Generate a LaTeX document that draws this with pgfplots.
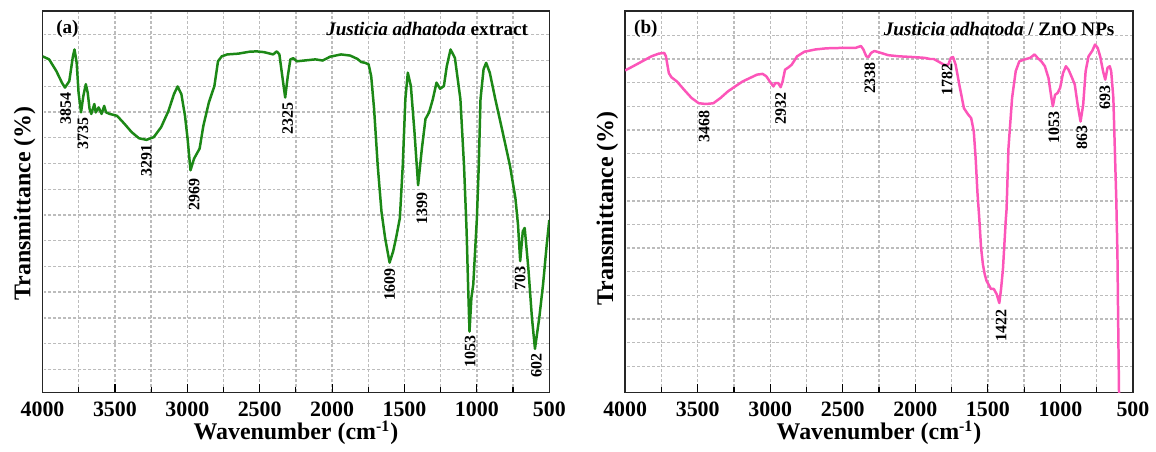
\documentclass[border=0pt]{standalone}
\usepackage{fontspec}
\setmainfont{Liberation Serif}
\usepackage{pgfplots}
\pgfplotsset{compat=1.18}
\definecolor{irgreen}{RGB}{28,136,22}
\definecolor{irpink}{RGB}{252,85,185}
\definecolor{gridgray}{RGB}{188,188,188}

\pgfplotsset{
  irpanel/.style={
    scale only axis, width=254.5pt, height=191.5pt,
    x dir=reverse, xmin=500, xmax=4000, ymin=0, ymax=100,
    xtick={500,1000,...,4000}, minor xtick={750,1250,...,3750},
    xtick pos=bottom, tick align=inside,
    major tick length=4pt, minor tick length=2.5pt,
    tick style={black, line width=0.6pt},
    yticklabels={}, ytick style={draw=none},
    xmajorgrids, xminorgrids, ymajorgrids,
    grid style={gridgray, line width=0.7pt, dash pattern=on 1.5pt off 1pt},
    minor grid style={gridgray, line width=0.7pt, dash pattern=on 1.5pt off 1pt},
    axis line style={black!85, line width=0.7pt},
    /pgf/number format/assume math mode=true,
    /pgf/number format/set thousands separator={},
    ticklabel style={font=\bfseries\fontsize{11}{12}\selectfont},
    xticklabel style={anchor=base, yshift=-12pt},
    xlabel={Wavenumber (cm\textsuperscript{-1})},
    ylabel={Transmittance (\%)},
    every axis y label/.style={at={(axis description cs:0,0.5)}, rotate=90, anchor=south,
      xshift=-1pt, font=\bfseries\fontsize{12}{14}\selectfont},
    every axis x label/.style={at={(axis description cs:0.5,0)}, anchor=base, yshift=-23.8pt,
      font=\bfseries\fontsize{12}{14}\selectfont},
    clip=true,
  },
}
\tikzset{
  peak/.style={font=\bfseries\fontsize{8}{9}\selectfont, rotate=90, inner sep=0pt},
  ttl/.style={font=\bfseries\fontsize{9.6}{11}\selectfont, inner sep=0pt},
}

\begin{document}
\begin{tikzpicture}
% (a) plant extract
\begin{axis}[irpanel, name=A,
  ytick={6,12.75,19.5,26.25,33,39.75,46.5,53.25,60,66.75,73.5,80.25,87,93.75}]
\addplot[irgreen, line width=1.25pt, line join=round] coordinates {
(4000,88.1) (3954,87.3) (3904,84.2) (3866,81.2) (3845,79.9) (3815,81.6) (3790,88.1)
(3779,89.9) (3764,86.4) (3751,78.6) (3734,73.4) (3718,77.7) (3701,80.8) (3688,78.6)
(3675,74.3) (3663,73.0) (3642,75.6) (3632,73.4) (3612,74.7) (3592,73.0) (3574,75.1)
(3561,73.4) (3536,73.0) (3485,72.5) (3434,70.4) (3384,68.2) (3333,66.6) (3282,66.2)
(3232,66.9) (3181,69.5) (3130,73.8) (3092,78.2) (3067,80.2) (3041,78.2) (3016,72.5)
(2998,66.5) (2978,58.2) (2953,61.3) (2915,63.9) (2889,69.9) (2851,76.0) (2813,80.3)
(2788,86.8) (2762,88.1) (2724,88.6) (2648,88.8) (2572,89.3) (2522,89.4) (2471,89.2)
(2407,88.6) (2382,89.4) (2364,88.6) (2344,82.9) (2324,77.3) (2306,82.9) (2288,87.3)
(2268,87.6) (2243,86.8) (2192,87.0) (2116,87.3) (2065,87.0) (2014,88.0) (1938,88.6)
(1875,88.3) (1824,87.4) (1799,86.6) (1773,86.4) (1748,86.0) (1730,82.9) (1710,74.3)
(1685,59.5) (1659,47.4) (1634,40.5) (1603,34.0) (1578,37.0) (1558,40.5) (1532,45.7)
(1512,59.5) (1494,76.9) (1477,83.8) (1456,80.3) (1431,68.2) (1406,54.3) (1380,63.9)
(1355,71.7) (1330,73.4) (1304,76.9) (1279,81.2) (1254,79.6) (1228,80.3) (1208,85.5)
(1182,89.9) (1152,87.7) (1114,76.9) (1089,59.5) (1071,42.2) (1061,28.3) (1051,15.9)
(1038,24.8) (1025,28.3) (1000,45.7) (987,59.5) (975,76.9) (954,84.7) (936,86.4)
(911,83.8) (873,76.9) (822,68.2) (772,59.5) (734,50.9) (716,43.9) (701,34.4)
(683,42.2) (670,43.1) (645,32.7) (620,19.6) (599,11.4) (569,19.6) (543,28.3)
(518,38.6) (500,45.2)
};
\node[ttl] at (axis cs:3828,95.2) {(a)};
\node[ttl, anchor=east] at (axis cs:644,95.2) {\textit{Justicia adhatoda} extract};
\node[peak] at (axis cs:3840,74.5) {3854};
\node[peak] at (axis cs:3721,67.8) {3735};
\node[peak] at (axis cs:3282,60.8) {3291};
\node[peak] at (axis cs:2953,51.9) {2969};
\node[peak] at (axis cs:2306,71.8) {2325};
\node[peak] at (axis cs:1380,48.1) {1399};
\node[peak] at (axis cs:1603,28.3) {1609};
\node[peak] at (axis cs:1046,10.6) {1053};
\node[peak] at (axis cs:701,29.8) {703};
\node[peak] at (axis cs:589,7.1) {602};
\end{axis}

% (b) ZnO nanoparticles
\begin{axis}[irpanel, name=B, xshift=292.6pt, width=255pt,
  every axis y label/.append style={xshift=-2.5pt},
  ytick={6.8,13.0,19.2,25.4,31.6,37.8,44.0,50.2,56.4,62.6,68.8,75.0,81.2,87.4,93.6}]
\addplot[irpink, line width=1.25pt, line join=round] coordinates {
(4000,84.4) (3945,85.5) (3882,86.8) (3819,88.1) (3769,88.8) (3731,89.0) (3719,88.1)
(3699,83.7) (3681,82.6) (3643,81.5) (3593,79.3) (3543,77.2) (3493,75.8) (3443,75.6)
(3392,75.8) (3342,77.2) (3292,78.9) (3242,80.2) (3191,81.5) (3141,82.4) (3091,83.3)
(3053,83.5) (3028,82.9) (3003,81.5) (2978,80.2) (2965,81.1) (2945,81.1) (2928,80.0)
(2915,81.5) (2898,84.6) (2878,85.1) (2852,85.9) (2815,88.1) (2765,89.3) (2689,89.9)
(2614,90.2) (2513,90.3) (2413,90.3) (2375,90.8) (2358,89.9) (2338,88.1) (2323,87.9)
(2305,89.0) (2282,89.5) (2237,89.0) (2187,88.4) (2112,88.1) (2011,87.9) (1936,87.7)
(1898,87.4) (1873,87.4) (1835,86.6) (1798,85.8) (1773,85.9) (1755,87.7) (1740,87.9)
(1722,85.9) (1697,80.7) (1665,74.5) (1635,72.8) (1615,71.9) (1597,68.4) (1584,61.3)
(1572,52.5) (1559,45.5) (1547,38.0) (1534,33.5) (1522,31.0) (1509,29.2) (1497,28.4)
(1479,27.1) (1459,27.1) (1439,25.7) (1421,23.4) (1409,27.1) (1396,32.3) (1384,40.2)
(1376,45.5) (1371,48.0) (1358,64.0) (1333,77.2) (1308,84.2) (1283,86.8) (1245,87.3)
(1208,87.7) (1178,88.6) (1158,87.7) (1132,86.8) (1107,85.5) (1082,82.4) (1062,77.2)
(1052,75.0) (1037,78.0) (1019,78.5) (1002,79.8) (982,83.7) (962,85.5) (944,84.6)
(919,82.4) (901,80.7) (881,75.4) (861,71.0) (843,75.4) (826,84.2) (806,88.1)
(781,89.5) (761,91.2) (743,90.3) (726,88.1) (706,84.2) (691,82.0) (675,85.1)
(660,85.5) (650,84.2) (635,77.2) (625,64.0) (615,50.8) (607,36.7) (602,19.2)
(596,0) (593,-5)
};
\node[ttl] at (axis cs:3857,95.2) {(b)};
\node[ttl, anchor=east] at (axis cs:625,95.2) {\textit{Justicia adhatoda} / ZnO NPs};
\node[peak] at (axis cs:3455,69.7) {3468};
\node[peak] at (axis cs:2928,74.5) {2932};
\node[peak] at (axis cs:2313,82.4) {2338};
\node[peak] at (axis cs:1780,82.0) {1782};
\node[peak] at (axis cs:1409,17.4) {1422};
\node[peak] at (axis cs:1045,69.4) {1053};
\node[peak] at (axis cs:851,66.8) {863};
\node[peak] at (axis cs:693,77.3) {693};
\end{axis}
% margins as in the reference
\path (A.south west) ++(-21.35pt,-26.5pt) coordinate (bbl);
\path (A.north west) ++(0,5.5pt) coordinate (bbt);
\path (B.south east) ++(9pt,0) coordinate (bbr);
\end{tikzpicture}
\end{document}
